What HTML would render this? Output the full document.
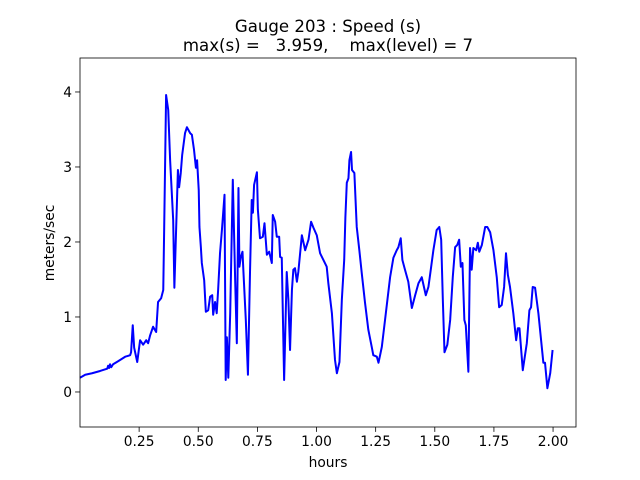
<!DOCTYPE html>
<html><head><meta charset="utf-8"><style>
body{margin:0;background:#fff;}
svg{display:block;font-family:"DejaVu Sans","Liberation Sans",sans-serif;}
</style></head><body>
<svg id="chart" width="640" height="480">
<rect x="0" y="0" width="640" height="480" fill="#fff"/>
<text x="328" y="32" text-anchor="middle" font-size="16.6">Gauge 203 : Speed (s)</text>
<text x="328" y="51" text-anchor="middle" font-size="16.6" xml:space="preserve">max(s) =   3.959,    max(level) = 7</text>
<g id="plot"></g>
<text x="328" y="467" text-anchor="middle" font-size="13.8">hours</text>
<text x="0" y="0" transform="translate(54,243) rotate(-90)" text-anchor="middle" font-size="13.8">meters/sec</text>
</svg>
<script>
const xTicks=[0.25,0.5,0.75,1.0,1.25,1.5,1.75,2.0];
const xTickLabels=["0.25","0.50","0.75","1.00","1.25","1.50","1.75","2.00"];
const yTicks=[0,1,2,3,4];
const yTickLabels=["0","1","2","3","4"];
const hours=[0.0,0.022,0.051,0.085,0.115,0.119,0.123,0.127,0.132,0.140,0.161,0.191,0.212,0.216,0.223,0.229,0.242,0.254,0.267,0.280,0.288,0.296,0.309,0.322,0.330,0.343,0.352,0.356,0.364,0.373,0.381,0.394,0.399,0.406,0.414,0.419,0.426,0.432,0.444,0.452,0.466,0.473,0.482,0.490,0.495,0.502,0.505,0.511,0.515,0.525,0.532,0.542,0.550,0.559,0.563,0.571,0.578,0.584,0.592,0.600,0.611,0.616,0.621,0.627,0.635,0.646,0.656,0.663,0.670,0.674,0.680,0.687,0.691,0.701,0.710,0.719,0.726,0.731,0.736,0.748,0.752,0.761,0.773,0.780,0.790,0.800,0.811,0.815,0.825,0.832,0.842,0.846,0.853,0.863,0.874,0.881,0.888,0.896,0.902,0.909,0.917,0.923,0.938,0.952,0.966,0.977,0.987,1.001,1.015,1.029,1.043,1.050,1.065,1.078,1.086,1.097,1.107,1.117,1.122,1.128,1.135,1.139,1.146,1.150,1.160,1.170,1.181,1.191,1.205,1.219,1.234,1.240,1.255,1.262,1.276,1.293,1.311,1.325,1.339,1.346,1.356,1.363,1.374,1.388,1.403,1.417,1.431,1.445,1.462,1.473,1.483,1.494,1.508,1.519,1.527,1.534,1.541,1.553,1.565,1.576,1.586,1.595,1.603,1.610,1.617,1.625,1.631,1.642,1.649,1.656,1.663,1.675,1.682,1.688,1.699,1.713,1.722,1.734,1.748,1.762,1.772,1.783,1.793,1.801,1.809,1.818,1.832,1.844,1.851,1.858,1.872,1.889,1.900,1.907,1.914,1.924,1.938,1.959,1.966,1.976,1.988,1.998];
const speed=[0.19,0.23,0.25,0.28,0.31,0.35,0.32,0.37,0.33,0.37,0.41,0.47,0.49,0.53,0.89,0.59,0.40,0.69,0.63,0.69,0.65,0.75,0.87,0.80,1.20,1.25,1.36,2.20,3.96,3.76,3.09,2.29,1.39,2.13,2.96,2.73,2.92,3.16,3.45,3.53,3.45,3.43,3.23,2.99,3.09,2.69,2.20,1.93,1.72,1.49,1.07,1.09,1.27,1.29,1.03,1.20,1.05,1.36,1.85,2.16,2.63,0.16,0.73,0.19,1.05,2.83,1.49,0.65,2.72,1.67,1.80,1.87,1.60,0.96,0.23,1.63,2.56,2.39,2.76,2.93,2.43,2.05,2.07,2.25,1.83,1.87,1.72,2.36,2.27,2.07,2.07,1.80,1.79,0.16,1.60,1.23,0.56,1.36,1.63,1.65,1.47,1.60,2.09,1.89,2.03,2.27,2.19,2.09,1.85,1.76,1.67,1.45,1.05,0.43,0.25,0.40,1.23,1.76,2.33,2.79,2.85,3.09,3.20,2.96,2.92,2.20,1.89,1.59,1.19,0.83,0.59,0.49,0.47,0.39,0.60,1.05,1.53,1.79,1.89,1.93,2.05,1.76,1.63,1.47,1.12,1.29,1.45,1.53,1.29,1.40,1.63,1.89,2.16,2.20,2.03,1.23,0.53,0.63,0.96,1.53,1.93,1.96,2.03,1.67,1.72,0.96,0.89,0.27,1.92,1.63,1.92,1.89,1.99,1.87,1.96,2.20,2.20,2.13,1.89,1.53,1.13,1.16,1.40,1.85,1.56,1.40,1.05,0.69,0.85,0.85,0.29,0.65,1.09,1.13,1.40,1.39,1.05,0.39,0.39,0.05,0.25,0.56];

const L=80,R=576,T=58,B=427;
const xMin=0.0,xMax=2.097,yMin=-0.467,yMax=4.453;
function xs(v){return L+(v-xMin)/(xMax-xMin)*(R-L);}
function ys(v){return B-(v-yMin)/(yMax-yMin)*(B-T);}
const NS="http://www.w3.org/2000/svg";
const plot=document.getElementById('plot');
function mk(tag,attrs){const e=document.createElementNS(NS,tag);for(const k in attrs)e.setAttribute(k,attrs[k]);plot.appendChild(e);return e;}

let d="";
for(let i=0;i<hours.length;i++){d+=(i?"L":"M")+xs(hours[i]).toFixed(2)+","+ys(speed[i]).toFixed(2);}
const line=mk('path',{d:d,fill:'none',stroke:'#0000ff','stroke-width':2,'stroke-linejoin':'round'});



xTicks.forEach((t,i)=>{
  const x=xs(t);
  const tk=mk('line',{x1:x,y1:B,x2:x,y2:B+4.9,stroke:'#000','stroke-width':0.8});
  
  
  const lb=mk('text',{x:x,y:B+19,'text-anchor':'middle','font-size':13.8});
  lb.textContent=xTickLabels[i];
  
  
});
yTicks.forEach((t,i)=>{
  const y=ys(t);
  const tk=mk('line',{x1:L-4.9,y1:y,x2:L,y2:y,stroke:'#000','stroke-width':0.8});
  
  
  const lb=mk('text',{x:L-8,y:y+5,'text-anchor':'end','font-size':13.8});
  lb.textContent=yTickLabels[i];
  
  
});
const frame=mk('rect',{x:L,y:T,width:R-L,height:B-T,fill:'none',stroke:'#000','stroke-width':0.8});


</script>
</body></html>
